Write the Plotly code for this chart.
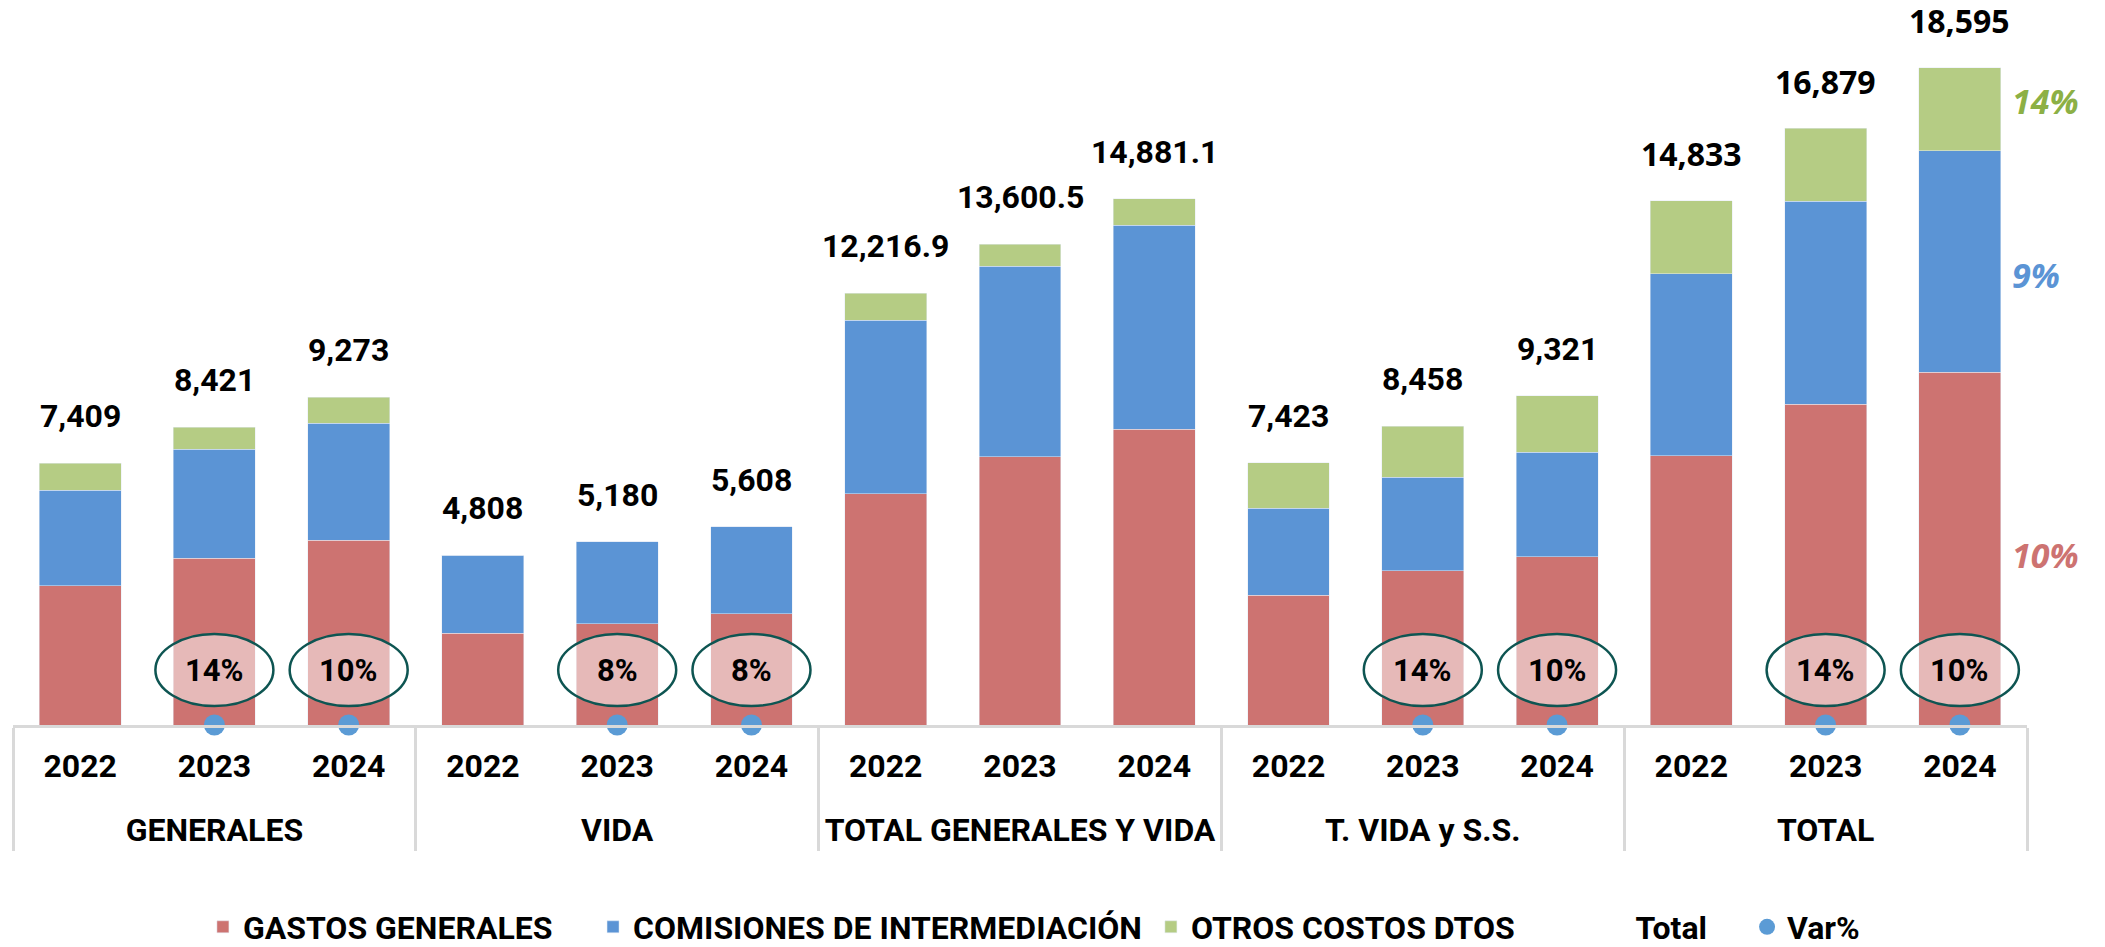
import plotly.graph_objects as go

# Categories (two-level axis)
groups = ['GENERALES'] * 3 + ['VIDA'] * 3 + ['TOTAL GENERALES Y VIDA'] * 3 + ['T. VIDA y S.S.'] * 3 + ['TOTAL'] * 3
years = ['2022', '2023', '2024'] * 5

# Stacked components
gastos = [3946, 4722, 5221, 2597, 2870, 3144, 6543, 7592, 8365, 3666, 4357, 4754, 7612, 9079, 9975]
comisiones = [2691, 3076, 3314, 2211, 2310, 2464, 4902, 5386, 5778, 2462, 2658, 2961, 5153, 5734, 6275]
otros = [772, 623, 738, 0, 0, 0, 772, 623, 738, 1295, 1443, 1606, 2068, 2066, 2345]

# Totals and their labels
totals = [7409, 8421, 9273, 4808, 5180, 5608, 12216.9, 13600.5, 14881.1, 7423, 8458, 9321, 14833, 16879, 18595]
total_labels = ['7,409', '8,421', '9,273', '4,808', '5,180', '5,608', '12,216.9', '13,600.5', '14,881.1',
                '7,423', '8,458', '9,321', '14,833', '16,879', '18,595']

# Year-on-year variation
var_pct = [None, 0.14, 0.10, None, 0.08, 0.08, None, None, None, None, 0.14, 0.10, None, 0.14, 0.10]

# Variation of each component in the last TOTAL bar
comp_var = ['10%', '9%', '14%']

RED = '#CD7371'
BLUE = '#5B94D5'
GREEN = '#B5CC84'
COMP_TEXT = ['#CD7371', '#5B94D5', '#8CB045']
COMP_SHIFT = [-6, -14, 8]

# a tall invisible pad around the year text leaves more room before the group row
pad = '<span style="font-size:62px">\u00a0</span>'
year_text = [pad + y + pad for y in years]
x = [groups, year_text]
bold = dict(family='Roboto', size=32, color='black', weight='bold')

fig = go.Figure()
fig.add_trace(go.Bar(x=x, y=gastos, name='GASTOS GENERALES', marker_color=RED, legend='legend'))
fig.add_trace(go.Bar(x=x, y=comisiones, name='COMISIONES DE INTERMEDIACIÓN', marker_color=BLUE, legend='legend2'))
fig.add_trace(go.Bar(x=x, y=otros, name='OTROS COSTOS DTOS', marker_color=GREEN, legend='legend3'))
fig.add_trace(go.Scatter(x=x, y=totals, name='Total', mode='lines', legend='legend4',
                         line=dict(color='rgba(0,0,0,0)'), hoverinfo='skip'))
fig.add_trace(go.Scatter(x=x, y=var_pct, name='Var%', mode='markers', cliponaxis=False, legend='legend5',
                         marker=dict(size=21, color='#5B9BD5')))

annotations = []
shapes = []
for i, (t, lab) in enumerate(zip(totals, total_labels)):
    font = dict(bold)
    if groups[i] == 'TOTAL':
        font['family'] = 'Noto Sans'
    annotations.append(dict(x=i, y=t, xref='x2', yref='y', text=lab, showarrow=False,
                            yshift=47, font=font))

for i, v in enumerate(var_pct):
    if v is None:
        continue
    shapes.append(dict(type='circle', xref='x2', yref='y', xsizemode='pixel', ysizemode='pixel',
                       xanchor=i, yanchor=v, x0=-59, x1=59, y0=19, y1=91,
                       fillcolor='rgba(255,255,255,0.5)', line=dict(color='#0E5552', width=2.5),
                       layer='above'))
    annotations.append(dict(x=i, y=v, xref='x2', yref='y', text=f'{v:.0%}', showarrow=False,
                            yshift=55, font=dict(bold, size=31)))

last = len(totals) - 1
base = 0
for seg, lab, col, sh in zip([gastos, comisiones, otros], comp_var, COMP_TEXT, COMP_SHIFT):
    mid = base + seg[last] / 2
    base += seg[last]
    annotations.append(dict(x=last, y=mid, xref='x2', yref='y', text=lab, showarrow=False,
                            xanchor='left', xshift=50, yshift=sh,
                            font=dict(family='Noto Sans', size=34, color=col, weight='bold', style='italic')))

legend_font = dict(family='Roboto', size=32, color='black', weight='bold')
legend_x = {'legend': 0.0943, 'legend2': 0.2880, 'legend3': 0.5650, 'legend4': 0.7857, 'legend5': 0.8610}
legends = {name: dict(orientation='h', x=lx, xanchor='left', y=-0.2857, yanchor='middle',
                      font=legend_font, bgcolor='rgba(0,0,0,0)')
           for name, lx in legend_x.items()}

fig.update_layout(
    width=2105, height=947,
    barmode='stack', bargap=0.39,
    plot_bgcolor='white', paper_bgcolor='white',
    margin=dict(l=13, r=78, t=18, b=222, autoexpand=False),
    xaxis=dict(type='multicategory', range=[-0.5, 14.5], showline=True, linecolor='#D9D9D9', linewidth=3,
               showdividers=True, dividercolor='#D9D9D9', dividerwidth=3, tickfont=bold,
               showgrid=False, ticks='', ticklabelstandoff=11),
    xaxis2=dict(overlaying='x', range=[-0.5, 14.5], visible=False),
    yaxis=dict(range=[0, 20000], visible=False),
    showlegend=True,
    annotations=annotations,
    shapes=shapes,
    **legends,
)

fig.write_html('out.html', config={'displayModeBar': False},
               post_script="document.body.style.margin='0';")
